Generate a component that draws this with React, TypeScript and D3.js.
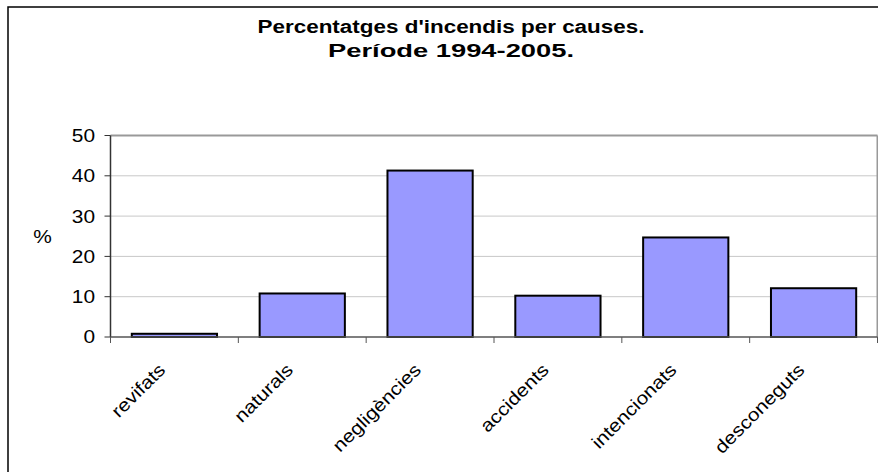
import React from "react";
import * as d3 from "d3";

const categories = ["revifats", "naturals", "negligències", "accidents", "intencionats", "desconeguts"];
const values = [0.8, 10.8, 41.3, 10.25, 24.7, 12.1];
const yTicks = [0, 10, 20, 30, 40, 50];
const titleLines = ["Percentatges d'incendis per causes.", "Període 1994-2005."];
const yLabel = "%";

const W = 878;
const H = 472;
const plot = { left: 110.5, right: 877.5, top: 135.5, bottom: 337 };
const font = "'Liberation Sans', Arial, sans-serif";
const SX = 1.16;

export default function App() {
  const x = d3
    .scaleBand<string>()
    .domain(categories)
    .range([plot.left, plot.right])
    .paddingInner(1 / 3)
    .paddingOuter(1 / 6);
  const step = x.step();
  const y = d3.scaleLinear().domain([0, 50]).range([plot.bottom, plot.top]);
  const boundaries = d3.range(categories.length + 1).map((i) => plot.left + i * step);
  const titleWidths = [387, 246];

  return (
    <svg
      width={W}
      height={H}
      style={{ position: "absolute", left: 0, top: 0, background: "#fff" }}
      fontFamily={font}
    >
      <rect x={0} y={0} width={W} height={H} fill="#fff" />
      <rect x={8} y={7} width={900} height={500} fill="#fff" stroke="#000" strokeWidth={1.5} />
      {titleLines.map((t, i) => (
        <text
          key={i}
          x={451 - titleWidths[i] / 2}
          y={33 + i * 23.5}
          fontWeight="bold"
          fontSize={18}
          fill="#000"
          textLength={titleWidths[i]}
          lengthAdjust="spacingAndGlyphs"
        >
          {t}
        </text>
      ))}
      {/* gridlines */}
      {yTicks.slice(1, -1).map((t) => (
        <line key={t} x1={plot.left} x2={plot.right} y1={y(t)} y2={y(t)} stroke="#c8c8c8" strokeWidth={1} />
      ))}
      {/* plot frame top & right */}
      <line x1={plot.left} x2={plot.right} y1={plot.top} y2={plot.top} stroke="#999" strokeWidth={2} />
      <line x1={plot.right} x2={plot.right} y1={plot.top} y2={plot.bottom} stroke="#999" strokeWidth={2} />
      {/* bars */}
      {categories.map((c, i) => (
        <rect
          key={c}
          x={x(c)}
          y={y(values[i])}
          width={x.bandwidth()}
          height={plot.bottom - y(values[i])}
          fill="#9999FF"
          stroke="#000"
          strokeWidth={2}
        />
      ))}
      {/* y axis */}
      <line x1={plot.left} x2={plot.left} y1={plot.top} y2={plot.bottom} stroke="#333" strokeWidth={1.5} />
      {yTicks.map((t) => (
        <g key={t}>
          <line x1={plot.left - 6} x2={plot.left} y1={y(t)} y2={y(t)} stroke="#333" strokeWidth={1} />
          <text
            transform={`translate(95 ${y(t)}) scale(${SX} 1)`}
            dy="0.36em"
            textAnchor="end"
            fontSize={18}
            fill="#000"
          >
            {t}
          </text>
        </g>
      ))}
      <text
        transform={`translate(42.5 ${(plot.top + plot.bottom) / 2}) scale(${SX} 1)`}
        dy="0.36em"
        textAnchor="middle"
        fontSize={18}
        fill="#000"
      >
        {yLabel}
      </text>
      {/* x axis */}
      <line x1={plot.left} x2={plot.right} y1={plot.bottom} y2={plot.bottom} stroke="#555" strokeWidth={1.5} />
      {boundaries.map((b, i) => (
        <line key={i} x1={b} x2={b} y1={plot.bottom} y2={plot.bottom + 6} stroke="#555" strokeWidth={1} />
      ))}
      {categories.map((c) => {
        const cx = (x(c) as number) + x.bandwidth() / 2;
        const ax = cx - 8;
        const ay = plot.bottom + 34;
        return (
          <text
            key={c}
            textAnchor="end"
            fontSize={18}
            fill="#000"
            transform={`translate(${ax} ${ay}) rotate(-45) scale(${SX} 1)`}
          >
            {c}
          </text>
        );
      })}
    </svg>
  );
}
